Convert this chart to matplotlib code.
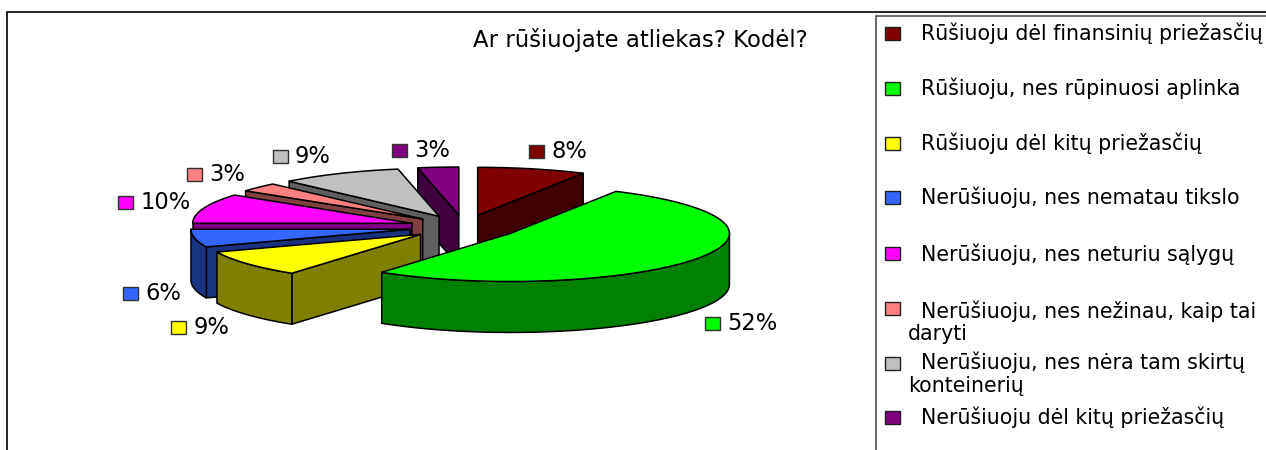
import numpy as np
import matplotlib
matplotlib.use("Agg")
import matplotlib.pyplot as plt
from matplotlib.patches import Polygon, Rectangle

plt.rcParams['font.family'] = ['DejaVu Sans']

# --- data ---
title_text = "Ar rūšiuojate atliekas? Kodėl?"
values = [8, 52, 9, 6, 10, 3, 9, 3]
legend_lines = [
    ["Rūšiuoju dėl finansinių priežasčių"],
    ["Rūšiuoju, nes rūpinuosi aplinka"],
    ["Rūšiuoju dėl kitų priežasčių"],
    ["Nerūšiuoju, nes nematau tikslo"],
    ["Nerūšiuoju, nes neturiu sąlygų"],
    ["Nerūšiuoju, nes nežinau, kaip tai", "daryti"],
    ["Nerūšiuoju, nes nėra tam skirtų", "konteinerių"],
    ["Nerūšiuoju dėl kitų priežasčių"],
]

# --- style ---
top_colors = ["#800000", "#00FF00", "#FFFF00", "#3366FF", "#FF00FF", "#FF8080", "#C0C0C0", "#800080"]
side_colors = ["#400000", "#008000", "#808000", "#1A3380", "#800080", "#804040", "#606060", "#400040"]

# --- layout (pixel frame) ---
W, H = 1266, 450
CX, CY, RX, RY, EXPLODE, DEPTH = 464, 227, 219, 48, 55, 51
label_xy = [(536.5, 151), (712.5, 323), (178.5, 327), (130.5, 293), (125.5, 202), (194, 174), (280, 156), (399.5, 150)]
legend_key_y = [33, 88, 143, 197, 253, 308, 363, 417]
legend_baselines = [40, 95, 150, 204, 261, [318, 340], [369, 392], 424]

fig = plt.figure(figsize=(W / 100, H / 100), dpi=100, facecolor="white")
ax = fig.add_axes([0, 0, 1, 1])
ax.set_xlim(0, W)
ax.set_ylim(H, 0)
ax.axis("off")


def rim(a, ox, oy):
    """Screen point on the slice rim at clockwise-from-top angle a (radians)."""
    return (ox + RX * np.sin(a), oy - RY * np.cos(a))


def add_poly(points, color, z):
    ax.add_patch(Polygon(points, closed=True, facecolor=color, edgecolor="black",
                         linewidth=1.1, joinstyle="round", zorder=z))


total = sum(values)
cum = np.cumsum([0] + values) / total * 2 * np.pi
order = [0, 7, 6, 5, 4, 3, 2, 1]  # back to front
for z, i in enumerate(order):
    a0, a1 = cum[i], cum[i + 1]
    mid = (a0 + a1) / 2
    ox = CX + EXPLODE * np.sin(mid)
    oy = CY - EXPLODE * (RY / RX) * np.cos(mid)
    base = z * 10 + 2
    # visible cut faces
    if np.sin(a0) < -1e-9:
        p = rim(a0, ox, oy)
        add_poly([(ox, oy), p, (p[0], p[1] + DEPTH), (ox, oy + DEPTH)], side_colors[i], base)
    if np.sin(a1) > 1e-9:
        p = rim(a1, ox, oy)
        add_poly([(ox, oy), p, (p[0], p[1] + DEPTH), (ox, oy + DEPTH)], side_colors[i], base)
    # visible outer wall
    lo, hi = max(a0, np.pi / 2), min(a1, 3 * np.pi / 2)
    if hi > lo:
        t = np.linspace(lo, hi, 80)
        upper = [rim(v, ox, oy) for v in t]
        lower = [(x, y + DEPTH) for x, y in upper[::-1]]
        add_poly(upper + lower, side_colors[i], base + 1)
    # top face
    t = np.linspace(a0, a1, 120)
    add_poly([(ox, oy)] + [rim(v, ox, oy) for v in t], top_colors[i], base + 2)

# data labels
for (x, y), v, c in zip(label_xy, values, top_colors):
    ax.add_patch(Rectangle((x - 7.5, y - 6.5), 15, 13, facecolor=c, edgecolor="#303030", linewidth=1, zorder=200))
    ax.text(x + 15, y + 7, f"{v}%", fontsize=16.3, va="baseline", ha="left", color="black", zorder=200)

# title
ax.text(640, 47, title_text, fontsize=16.4, va="baseline", ha="center", color="black")

# chart frame
ax.plot([7, 7, W], [H, 12, 12], color="black", lw=1.2, zorder=300, solid_joinstyle="miter")
# legend box
ax.plot([876, 876, W], [H, 16, 16], color="#505050", lw=1.2, zorder=300, solid_joinstyle="miter")

# legend
LEG_FS = 14.8
for key_y, base_y, lines, c in zip(legend_key_y, legend_baselines, legend_lines, top_colors):
    ax.add_patch(Rectangle((885, key_y - 6.5), 15, 13, facecolor=c, edgecolor="#202020", linewidth=1, zorder=200))
    if len(lines) == 1:
        ax.text(921, base_y, lines[0], fontsize=LEG_FS, va="baseline", ha="left", color="black")
    else:
        ax.text(921, base_y[0], lines[0], fontsize=LEG_FS, va="baseline", ha="left", color="black")
        ax.text(908, base_y[1], lines[1], fontsize=LEG_FS, va="baseline", ha="left", color="black")

fig.savefig("out.png", dpi=100, facecolor="white")
